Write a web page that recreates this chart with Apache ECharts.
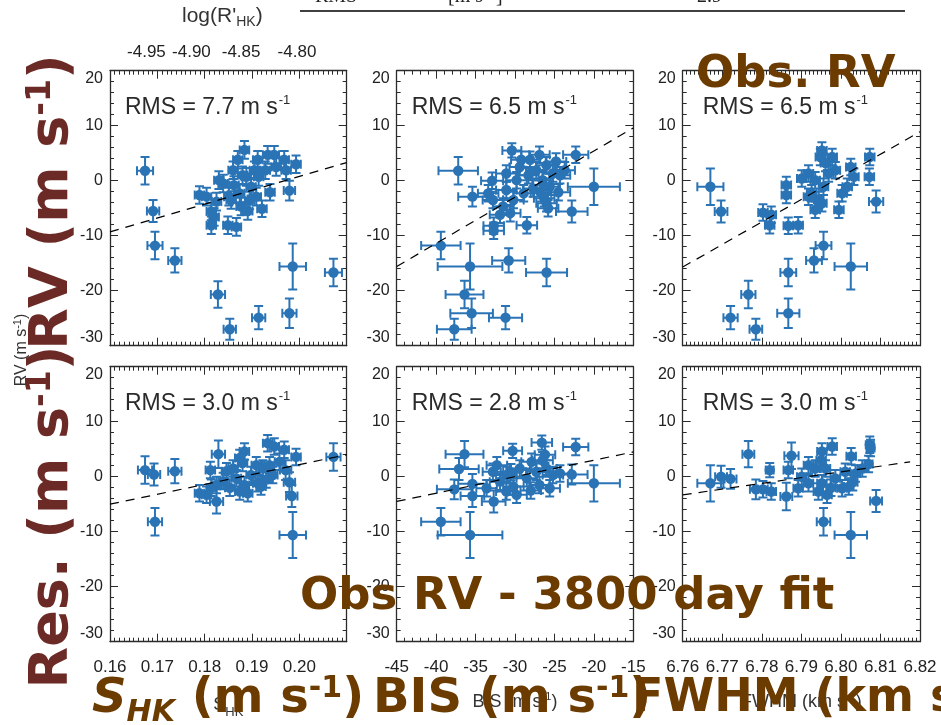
<!DOCTYPE html>
<html>
<head>
<meta charset="utf-8">
<script src="https://cdn.jsdelivr.net/npm/echarts@6/dist/echarts.min.js"></script>
<style>html,body{margin:0;padding:0;background:#fff}#main{width:941px;height:725px}</style>
</head>
<body>
<div id="main"></div>
<script>
// ---------- DATA ----------
// each point: [x, y, xErr, yErr]
const shkObs = [
  [0.1674,1.8,0.0017,2.5],[0.1691,-5.5,0.0013,2.0],[0.1695,-11.8,0.0016,2.5],[0.1737,-14.5,0.0014,2.2],
  [0.1828,-20.7,0.0015,2.4],[0.1853,-27.0,0.0013,1.9],[0.1914,-24.9,0.0014,2.1],[0.1979,-24.1,0.0015,2.7],
  [0.1986,-15.6,0.0028,4.2],[0.2072,-16.7,0.0018,2.5],[0.1979,-1.8,0.0012,1.8],[0.1938,-2.1,0.0010,1.5],
  [0.1921,-5.1,0.0010,1.5],
  [0.1789,-2.6,0.0010,1.6],[0.1804,-2.9,0.0010,1.6],[0.1814,-5.6,0.0010,1.6],[0.1814,-8.1,0.0010,1.6],
  [0.1820,-6.6,0.0010,1.6],[0.1825,-3.8,0.0010,1.6],[0.1839,-0.5,0.0010,1.6],[0.1849,-8.1,0.0010,1.6],
  [0.1867,-8.4,0.0010,1.6],[0.1860,1.9,0.0010,1.6],[0.1870,3.8,0.0010,1.6],[0.1884,5.6,0.0010,1.6],
  [0.1874,-2.3,0.0010,1.6],[0.1877,-4.7,0.0010,1.6],[0.1891,-5.5,0.0010,1.6],[0.1888,0.7,0.0010,1.6],
  [0.1898,-1.1,0.0010,1.6],[0.1905,1.9,0.0010,1.6],[0.1912,3.8,0.0010,1.6],[0.1914,0.7,0.0010,1.6],
  [0.1909,-2.9,0.0010,1.6],[0.1933,4.7,0.0010,1.6],[0.1947,4.7,0.0010,1.6],[0.1951,2.5,0.0010,1.6],
  [0.1968,3.8,0.0010,1.6],[0.1972,1.9,0.0010,1.6],[0.1993,3.0,0.0010,1.6],[0.1928,1.9,0.0010,1.6],
  [0.1851,-2.9,0.0010,1.6],[0.1830,0.1,0.0010,1.6],[0.1856,-3.5,0.0010,1.6],[0.1880,1.0,0.0010,1.6],
  [0.1895,-3.6,0.0010,1.6],[0.1862,-0.8,0.0010,1.6]
];
const bisObs = [
  [-37.2,1.8,2.5,2.5],[-35.4,-2.9,1.8,1.8],[-39.4,-11.8,2.5,2.5],[-35.7,-15.6,4.1,4.2],
  [-30.8,-14.5,2.1,2.2],[-26.0,-16.7,2.6,2.5],[-36.4,-20.7,2.4,2.5],[-35.5,-24.1,2.7,2.7],
  [-31.2,-24.9,2.1,2.1],[-37.7,-27.0,2.2,1.9],[-20.0,-1.1,3.3,3.3],[-22.8,-5.6,2.0,2.0],
  [-22.3,4.7,1.6,1.5],[-30.4,5.5,1.2,1.3],[-28.5,-8.1,1.3,1.5],[-32.9,0.0,1.4,1.5],[-24.5,-2.1,1.5,1.5],
  [-33.4,-2.3,1.3,1.5],[-32.8,-3.5,1.3,1.5],[-32.7,-8.2,1.3,1.5],[-32.7,-9.1,1.3,1.5],[-31.9,-6.2,1.3,1.5],
  [-31.5,-4.7,1.3,1.5],[-31.1,-1.7,1.3,1.5],[-31.1,1.3,1.3,1.5],[-30.6,-5.9,1.3,1.5],[-30.2,-3.5,1.3,1.5],
  [-29.8,0.1,1.3,1.5],[-29.4,2.5,1.3,1.5],[-28.9,-2.3,1.3,1.5],[-28.3,1.0,1.3,1.5],[-28.1,3.8,1.3,1.5],
  [-27.7,-1.4,1.3,1.5],[-27.3,1.9,1.3,1.5],[-26.9,4.7,1.3,1.5],[-26.7,-2.3,1.3,1.5],[-26.5,0.1,1.3,1.5],
  [-26.0,-4.1,1.3,1.5],[-26.0,2.8,1.3,1.5],[-25.6,-1.1,1.3,1.5],[-25.2,1.3,1.3,1.5],[-24.8,3.5,1.3,1.5],
  [-24.3,1.0,1.3,1.5],[-23.7,1.9,1.3,1.5],[-29.2,3.8,1.3,1.5],[-26.3,-3.2,1.3,1.5],[-25.8,-5.0,1.3,1.5]
];
const fwhmObs = [
  [6.7670,-1.1,0.0033,3.3],[6.7697,-5.6,0.0016,2.0],[6.7766,-20.7,0.0018,2.5],[6.7721,-24.9,0.0018,2.1],
  [6.7785,-27.0,0.0016,1.9],[6.7867,-24.1,0.0028,2.7],[6.7867,-16.7,0.0020,2.5],[6.7932,-14.5,0.0020,2.2],
  [6.7956,-11.8,0.0020,2.5],[6.8025,-15.6,0.0041,4.2],[6.8089,-3.8,0.0018,2.0],[6.8072,0.7,0.0012,1.5],
  [6.8073,4.3,0.0012,1.5],
  [6.7803,-5.8,0.0012,1.5],[6.7824,-6.2,0.0012,1.5],[6.7820,-8.1,0.0012,1.5],[6.7867,-8.2,0.0012,1.5],
  [6.7892,-8.1,0.0012,1.5],[6.7862,-0.8,0.0012,1.5],[6.7862,-2.6,0.0012,1.5],[6.7901,0.4,0.0012,1.5],
  [6.7918,1.3,0.0012,1.5],[6.7948,4.3,0.0012,1.5],[6.7952,5.5,0.0012,1.5],[6.7978,4.3,0.0012,1.5],
  [6.7969,1.3,0.0012,1.5],[6.7944,-3.5,0.0012,1.5],[6.7935,-5.3,0.0012,1.5],[6.7995,-5.3,0.0012,1.5],
  [6.8003,-2.3,0.0012,1.5],[6.8025,2.5,0.0012,1.5],[6.8033,0.7,0.0012,1.5],[6.7926,-2.3,0.0012,1.5],
  [6.7956,-1.1,0.0012,1.5],[6.7935,0.1,0.0012,1.5],[6.7961,3.2,0.0012,1.5],[6.7986,1.9,0.0012,1.5],
  [6.7918,-2.9,0.0012,1.5],[6.8016,-1.1,0.0012,1.5],[6.7952,-4.1,0.0012,1.5]
];
const shkRes = [
  [0.1674,1.2,0.0015,2.5],[0.1693,0.4,0.0013,2.0],[0.1695,-8.2,0.0015,2.5],[0.1737,1.0,0.0014,2.2],
  [0.1829,4.1,0.0014,2.5],[0.1825,-4.5,0.0014,2.2],[0.1812,1.2,0.0010,1.5],[0.1986,-10.6,0.0028,4.2],
  [0.1984,-3.5,0.0012,2.0],[0.1979,-1.0,0.0012,1.8],[0.1971,1.2,0.0012,1.8],[0.2072,3.6,0.0015,2.5],
  [0.1993,3.6,0.0010,1.5],[0.1933,6.1,0.0010,1.5],[0.1947,5.5,0.0010,1.5],[0.1968,4.9,0.0010,1.5],
  [0.1884,4.6,0.0010,1.5],[0.1874,3.4,0.0010,1.5],
  [0.1789,-3.0,0.0010,1.5],[0.1804,-3.3,0.0010,1.5],[0.1814,-2.0,0.0010,1.5],[0.1839,-0.8,0.0010,1.5],
  [0.1846,1.0,0.0010,1.5],[0.1853,-2.0,0.0010,1.5],[0.1860,1.5,0.0010,1.5],[0.1867,-0.3,0.0010,1.5],
  [0.1874,-2.7,0.0010,1.5],[0.1884,-1.5,0.0010,1.5],[0.1891,-3.0,0.0010,1.5],[0.1898,0.3,0.0010,1.5],
  [0.1909,2.1,0.0010,1.5],[0.1912,-1.2,0.0010,1.5],[0.1919,-1.8,0.0010,1.5],[0.1923,1.5,0.0010,1.5],
  [0.1937,2.1,0.0010,1.5],[0.1944,0.3,0.0010,1.5],[0.1958,2.7,0.0010,1.5],[0.1825,-1.5,0.0010,1.5],
  [0.1880,2.5,0.0010,1.5],[0.1930,-0.5,0.0010,1.5]
];
const bisRes = [
  [-36.4,4.1,2.4,2.4],[-37.1,1.4,2.5,2.0],[-37.7,-2.3,2.2,1.8],[-35.4,-1.3,1.8,1.8],[-35.4,-3.5,1.5,2.0],
  [-39.4,-8.2,2.5,2.5],[-35.7,-10.6,4.1,4.2],[-32.7,-4.5,1.5,2.0],[-30.3,4.7,1.2,1.3],[-26.6,6.2,1.3,1.3],
  [-22.3,5.4,1.6,1.5],[-22.8,0.4,2.0,1.8],[-20.0,-1.2,3.3,3.3],[-26.2,4.0,1.3,1.5],
  [-33.6,-2.1,1.3,1.5],[-32.8,0.9,1.3,1.5],[-31.9,-0.9,1.3,1.5],[-31.1,0.3,1.3,1.5],[-31.1,-2.7,1.3,1.5],
  [-30.2,-1.8,1.3,1.5],[-29.4,1.5,1.3,1.5],[-28.5,-0.3,1.3,1.5],[-27.9,2.7,1.3,1.5],[-27.3,0.9,1.3,1.5],
  [-26.9,-1.5,1.3,1.5],[-26.0,1.5,1.3,1.5],[-25.6,-2.1,1.3,1.5],[-25.2,0.3,1.3,1.5],[-24.3,0.6,1.3,1.5],
  [-32.3,2.1,1.3,1.5],[-29.8,-3.3,1.3,1.5],[-28.0,-2.5,1.3,1.5],[-30.5,0.8,1.3,1.5],[-26.5,3.0,1.3,1.5]
];
const fwhmRes = [
  [6.7670,-1.2,0.0033,3.3],[6.7697,0.0,0.0015,2.0],[6.7721,-0.4,0.0015,1.8],[6.7766,4.1,0.0015,2.4],
  [6.7785,-2.3,0.0015,1.8],[6.7803,-2.3,0.0012,1.5],[6.7824,-2.7,0.0012,1.5],[6.7820,1.2,0.0010,1.3],
  [6.7862,-3.6,0.0015,2.5],[6.7875,3.8,0.0018,2.4],[6.7867,1.2,0.0012,1.5],[6.7956,-8.2,0.0017,2.5],
  [6.8025,-10.6,0.0041,4.2],[6.8089,-4.4,0.0015,2.0],[6.8070,2.3,0.0010,1.5],[6.8073,5.8,0.0010,1.5],
  [6.8075,5.2,0.0010,1.5],[6.7978,5.5,0.0012,1.5],[6.8026,3.7,0.0012,1.5],[6.7952,4.6,0.0012,1.5],
  [6.7901,0.0,0.0012,1.5],[6.7918,-1.2,0.0012,1.5],[6.7935,1.5,0.0012,1.5],[6.7943,-2.7,0.0012,1.5],
  [6.7952,-1.2,0.0012,1.5],[6.7961,1.5,0.0012,1.5],[6.7965,-3.3,0.0012,1.5],[6.7986,-0.3,0.0012,1.5],
  [6.8003,-2.1,0.0012,1.5],[6.8011,0.9,0.0012,1.5],[6.8020,-1.8,0.0012,1.5],[6.8037,0.6,0.0012,1.5],
  [6.8054,1.5,0.0012,1.5],[6.7892,-2.1,0.0012,1.5],[6.7918,2.1,0.0012,1.5],[6.7950,3.0,0.0012,1.5],
  [6.7975,-2.0,0.0012,1.5],[6.8030,-1.0,0.0012,1.5]
];
// dashed linear fits: [[x0,y0],[x1,y1]]
const fitShkObs  = [[0.16,-9.3],[0.21,3.3]];
const fitBisObs  = [[-45,-15.6],[-15,9.6]];
const fitFwhmObs = [[6.76,-15.7],[6.82,8.9]];
const fitShkRes  = [[0.16,-5.0],[0.21,4.0]];
const fitBisRes  = [[-45,-4.5],[-15,4.5]];
const fitFwhmRes = [[6.76,-3.3],[6.8175,2.7]];
const rmsObs = ['7.7','6.5','6.5'];
const rmsRes = ['3.0','2.8','3.0'];
// x-axis ranges
const xMin = [0.16, -45, 6.76];
const xMax = [0.21, -15, 6.82];
const xStep = [0.01, 5, 0.01];
const xMinor = [10, 5, 10];
const xDec = [2, 0, 2];
const yTicks = [-30, 20, 10];
// top axis of first panel: log(R'HK) labels at S_HK positions
const logRLabels = ['-4.95','-4.90','-4.85','-4.80'];
const logRAtS = [0.1677, 0.1772, 0.1877, 0.1995];

// ---------- LAYOUT ----------
const COLOR = '#2a74b6';
const AX = '#2b2b2b';
const colLeft = [110, 396.7, 682.7];
const colW = [236.7, 236.6, 237.3];
const rowTop = [70.7, 366.7];
const rowH = 275;

const dataSets = [[shkObs,bisObs,fwhmObs],[shkRes,bisRes,fwhmRes]];
const fits = [[fitShkObs,fitBisObs,fitFwhmObs],[fitShkRes,fitBisRes,fitFwhmRes]];
const rms = [rmsObs, rmsRes];

function renderErr(params, api) {
  const x = api.value(0), y = api.value(1), ex = api.value(2), ey = api.value(3);
  const c = api.coord([x, y]);
  const l = api.coord([x - ex, y])[0], r = api.coord([x + ex, y])[0];
  const t = api.coord([x, y + ey])[1], b = api.coord([x, y - ey])[1];
  const cap = 4.5;
  const st = {stroke: COLOR, lineWidth: 2};
  return {type: 'group', children: [
    {type:'line', shape:{x1:l,y1:c[1],x2:r,y2:c[1]}, style:st},
    {type:'line', shape:{x1:l,y1:c[1]-cap,x2:l,y2:c[1]+cap}, style:st},
    {type:'line', shape:{x1:r,y1:c[1]-cap,x2:r,y2:c[1]+cap}, style:st},
    {type:'line', shape:{x1:c[0],y1:t,x2:c[0],y2:b}, style:st},
    {type:'line', shape:{x1:c[0]-cap,y1:t,x2:c[0]+cap,y2:t}, style:st},
    {type:'line', shape:{x1:c[0]-cap,y1:b,x2:c[0]+cap,y2:b}, style:st},
    {type:'circle', shape:{cx:c[0],cy:c[1],r:5.2}, style:{fill:COLOR}}
  ]};
}

const grids = [], xAxes = [], yAxes = [], series = [], graphics = [];
const tickFont = {fontFamily:'Liberation Sans', color:'#222'};
const xNames = [
  {text:'{a|S}{s|HK}'},
  {text:'{a|BIS (m s}{p|-1}{a|)}'},
  {text:'{a|FWHM (km s}{p|-1}{a|)}'}
];
for (let r = 0; r < 2; r++) {
  for (let c = 0; c < 3; c++) {
    const gi = grids.length;
    grids.push({left: colLeft[c], top: rowTop[r], width: colW[c], height: rowH});
    const dec = xDec[c];
    const common = {type:'value', gridIndex: gi, min: xMin[c], max: xMax[c], interval: xStep[c],
      splitLine:{show:false},
      axisLine:{show:true, onZero:false, lineStyle:{color:AX, width:1.3}},
      axisTick:{show:true, inside:true, length:8, lineStyle:{color:AX, width:1}},
      minorTick:{show:true, splitNumber: xMinor[c], length:4, lineStyle:{color:AX, width:1}},
      minorSplitLine:{show:false}};
    const bottom = Object.assign({}, common, {position:'bottom',
      axisLabel:{show: r === 1, margin: 17, fontSize: 17, ...tickFont,
        showMaxLabel: c !== 0, formatter: v => v.toFixed(dec)}});
    if (r === 1) {
      Object.assign(bottom, {name: xNames[c].text, nameLocation:'middle', nameGap: 50,
        nameTextStyle:{fontFamily:'Liberation Sans', fontSize:18, color:'#333',
          rich:{a:{fontFamily:'Liberation Sans', fontSize:18, color:'#333'},
                s:{fontFamily:'Liberation Sans', fontSize:13, color:'#333', padding:[14,0,0,0]},
                p:{fontFamily:'Liberation Sans', fontSize:11, color:'#333', padding:[0,0,10,0]}}}});
    }
    xAxes.push(bottom);
    const top = Object.assign({}, common, {position:'top', axisLabel:{show:false}});
    if (r === 0 && c === 0) {
      top.axisLabel = {show:true, customValues: logRAtS, margin: 10, fontSize: 17, ...tickFont,
        formatter: v => { let k = 0, d = 1e9; logRAtS.forEach((s,i)=>{ if (Math.abs(s-v)<d){d=Math.abs(s-v);k=i;} }); return logRLabels[k]; }};
    }
    xAxes.push(top);
    const yc = {type:'value', gridIndex: gi, min: yTicks[0], max: yTicks[1], interval: yTicks[2],
      splitLine:{show:false},
      axisLine:{show:true, onZero:false, lineStyle:{color:AX, width:1.3}},
      axisTick:{show:true, inside:true, length:8, lineStyle:{color:AX, width:1}},
      minorTick:{show:true, splitNumber:5, length:4, lineStyle:{color:AX, width:1}}};
    yAxes.push(Object.assign({}, yc, {position:'left',
      axisLabel:{show:true, margin:7, fontSize:16, ...tickFont,
        verticalAlignMinLabel:'bottom', verticalAlignMaxLabel:'top'}}));
    yAxes.push(Object.assign({}, yc, {position:'right', axisLabel:{show:false}}));
    const xi = gi * 2, yi = gi * 2;
    series.push({type:'custom', xAxisIndex: xi, yAxisIndex: yi, renderItem: renderErr,
      data: dataSets[r][c], encode:{x:0, y:1}, clip:true, z:3, animation:false});
    series.push({type:'line', xAxisIndex: xi, yAxisIndex: yi, data: fits[r][c], symbol:'none',
      lineStyle:{color:'#000', width:1.2, type:[9,7]}, z:4, animation:false, silent:true});
    graphics.push({type:'text', left: colLeft[c] + (c === 2 ? 20 : 15), top: rowTop[r] + 23, z: 50,
      style:{text:'{a|RMS = ' + rms[r][c] + ' m s}{p|-1}',
        rich:{a:{fontFamily:'Liberation Sans', fontSize:23, fill:'#2a2a2a', lineHeight:28},
              p:{fontFamily:'Liberation Sans', fontSize:13, fill:'#2a2a2a', verticalAlign:'top', lineHeight:28, padding:[0,0,16,1]}}}});
  }
}

// ---------- overlay labels ----------
const BROWN = '#6c3b00';
const MAROON = '#6b2a25';
const bigRich = (col, size) => ({
  a:{fontFamily:'DejaVu Sans', fontWeight:'bold', fontSize:size, fill:col},
  i:{fontFamily:'DejaVu Sans', fontWeight:'bold', fontStyle:'italic', fontSize:size, fill:col},
  s:{fontFamily:'DejaVu Sans', fontWeight:'bold', fontStyle:'italic', fontSize:Math.round(size*0.62), fill:col, padding:[Math.round(size*0.55),0,0,0]},
  p:{fontFamily:'DejaVu Sans', fontWeight:'bold', fontSize:Math.round(size*0.62), fill:col, padding:[0,0,Math.round(size*0.45),0]}
});
// top table fragment (cut by the top edge)
graphics.push({type:'line', shape:{x1:300,y1:11,x2:905,y2:11}, style:{stroke:'#000', lineWidth:1.4}, z:50});
[['RMS',315],['[m s\u207B\u00B9]',448],['2.9',697]].forEach(([t,x]) => {
  graphics.push({type:'text', x:x, y:7, z:50, style:{text:t, font:'20px "Liberation Serif"', fill:'#222', verticalAlign:'bottom'}});
});
// log(R'HK) title
graphics.push({type:'text', left:182, top:6, z:50, style:{text:"{a|log(R'}{s|HK}{a|)}",
  rich:{a:{fontFamily:'Liberation Sans', fontSize:21, fill:'#333'},
        s:{fontFamily:'Liberation Sans', fontSize:14, fill:'#333', padding:[12,0,0,0]}}}});
// small original y label
graphics.push({type:'text', x:22, y:350, rotation:Math.PI/2, z:40, style:{text:'{a|RV (m s}{p|-1}{a|)}', align:'center', verticalAlign:'middle',
  rich:{a:{fontFamily:'Liberation Sans', fontSize:16, fill:'#333'}, p:{fontFamily:'Liberation Sans', fontSize:11, fill:'#333', padding:[0,0,9,0]}}}});
// big overlays
graphics.push({type:'text', x:53, y:202, rotation:Math.PI/2, z:60, style:{text:'{a|RV (m s}{p|-1}{a|)}', align:'center', verticalAlign:'middle', rich:bigRich(MAROON,54)}});
graphics.push({type:'text', x:53, y:517, rotation:Math.PI/2, z:60, style:{text:'{a|Res. (m s}{p|-1}{a|)}', align:'center', verticalAlign:'middle', rich:bigRich(MAROON,54)}});
graphics.push({type:'text', left:696, top:53, z:60, style:{text:'{a|Obs. RV}', rich:bigRich(BROWN,45)}});
graphics.push({type:'text', left:300, top:575, z:60, style:{text:'{a|Obs RV - 3800 day fit}', rich:bigRich(BROWN,45)}});
graphics.push({type:'text', left:92, top:674, z:60, style:{text:'{i|S}{s|HK}{a| (m s}{p|-1}{a|)}', rich:bigRich(BROWN,48)}});
graphics.push({type:'text', left:373, top:674, z:60, style:{text:'{a|BIS (m s}{p|-1}{a|)}', rich:bigRich(BROWN,48)}});
graphics.push({type:'text', left:632, top:674, z:60, style:{text:'{a|FWHM (km s}{p|-1}{a|)}', rich:bigRich(BROWN,46)}});

const chart = echarts.init(document.getElementById('main'));
chart.setOption({
  animation:false,
  backgroundColor:'#fff',
  grid: grids, xAxis: xAxes, yAxis: yAxes, series: series, graphic: graphics
});
</script>
</body>
</html>
